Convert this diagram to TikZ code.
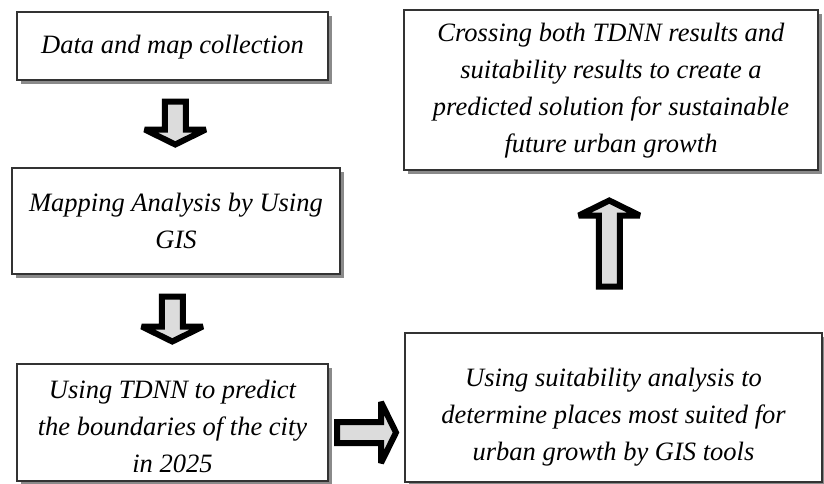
\documentclass[tikz,border=0pt]{standalone}
\usepackage{fontspec}
\setmainfont{Liberation Serif}
\usetikzlibrary{shadows,calc}

\definecolor{boxline}{HTML}{333333}
\definecolor{shadowgray}{HTML}{8A8A8A}
\definecolor{arrowfill}{HTML}{DCDCDC}

\tikzset{
  stepbox/.style={draw=boxline, line width=1.3pt, fill=white, inner sep=0pt,
    drop shadow={shadow xshift=4pt, shadow yshift=-4pt, fill=shadowgray, opacity=1}},
  steptext/.style={align=center, inner sep=0pt,
    font=\fontsize{26.5}{37}\selectfont\itshape},
  blockarrow/.style={draw=black, line width=6pt, fill=arrowfill, line join=miter, miter limit=4},
  pics/barrow/.style={code={
    \draw[blockarrow] ({-#1/2},-10.5) -- ({#1/2-15},-10.5) -- ({#1/2-15},-30.5)
      -- ({#1/2},0) -- ({#1/2-15},30.5) -- ({#1/2-15},10.5) -- ({-#1/2},10.5) -- cycle;
  }}
}

\begin{document}
\begin{tikzpicture}[x=1pt,y=-1pt]
  \useasboundingbox (0,0) rectangle (824,483);

  % process boxes
  \node[stepbox, minimum width=311pt, minimum height=68pt]  (b1) at (172.5,46) {};
  \node[stepbox, minimum width=328pt, minimum height=106pt] (b2) at (176,221) {};
  \node[stepbox, minimum width=311pt, minimum height=117pt] (b3) at (172.5,422.5) {};
  \node[stepbox, minimum width=417pt, minimum height=149pt] (b4) at (613.5,407.5) {};
  \node[stepbox, minimum width=414pt, minimum height=160pt] (b5) at (611,90) {};

  % box texts
  \node[steptext] (t1) at ($(b1.center)+(0,1)$) {Data and map collection};
  \node[steptext] (t2) at ($(b2.center)+(0,0)$) {Mapping Analysis by Using\\GIS};
  \node[steptext] (t3) at ($(b3.center)+(0,4)$) {Using TDNN to predict\\the boundaries of the city\\in 2025};
  \node[steptext] (t4) at ($(b4.center)+(0,10)$) {Using suitability analysis to\\determine places most suited for\\urban growth by GIS tools};
  \node[steptext] (t5) at ($(b5.center)+(0,1)$) {Crossing both TDNN results and\\suitability results to create a\\predicted solution for sustainable\\future urban growth};

  % block arrows between the steps
  \coordinate (a1) at ($(b1.south)!0.5!(b2.north)+(1,-1)$);
  \coordinate (a2) at ($(b2.south)!0.5!(b3.north)+(-2,0)$);
  \coordinate (a3) at ($(b3.east)!0.5!(b4.west)$);
  \coordinate (a4) at ($(b4.north)!0.5!(b5.south)+(-3,-8)$);
  \pic[rotate=-90] at (a1) {barrow=43};
  \pic[rotate=-90] at (a2) {barrow=45};
  \pic at ($(a3|-b3.center)+(0,10)$) {barrow=59};
  \pic[rotate=90] at (a4) {barrow=86};
\end{tikzpicture}
\end{document}
